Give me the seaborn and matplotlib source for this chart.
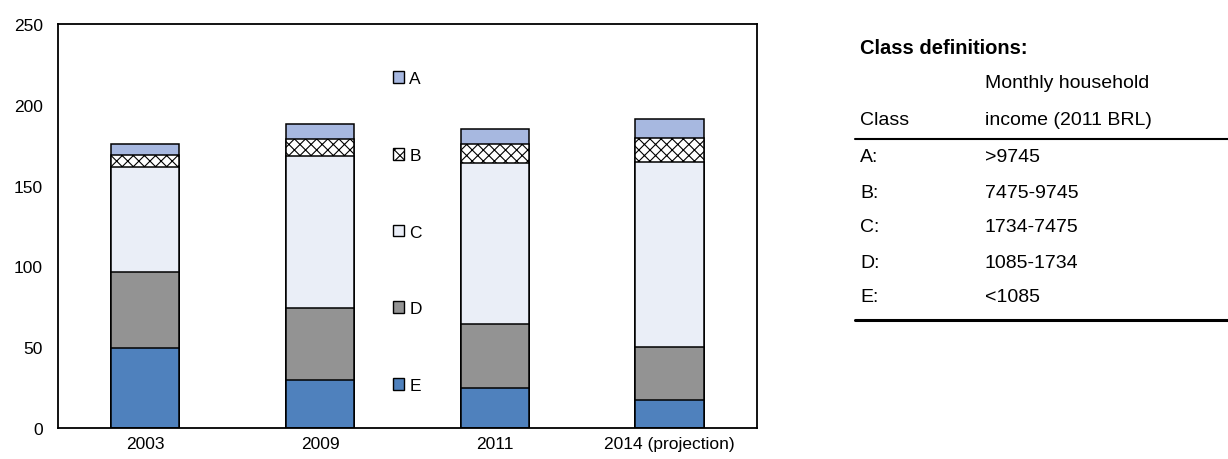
import numpy as np
import pandas as pd
import matplotlib
matplotlib.use("Agg")
import matplotlib.pyplot as plt
from matplotlib.patches import Patch
from matplotlib.lines import Line2D
import seaborn as sns

# values (stacked, bottom to top E, D, C, B, A)
years = ["2003", "2009", "2011", "2014 (projection)"]
class_e = [49.5, 30.0, 25.0, 17.5]
class_d = [47.0, 44.5, 39.5, 32.5]
class_c = [65.0, 93.5, 99.5, 114.5]
class_b = [7.5, 11.0, 11.5, 15.0]
class_a = [6.5, 9.0, 9.5, 12.0]

class_names = ["A", "B", "C", "D", "E"]
class_income = [">9745", "7475-9745", "1734-7475", "1085-1734", "<1085"]

colors = {"A": "#A7B8E0", "B": "#FFFFFF", "C": "#EAEEF7", "D": "#939393", "E": "#4F81BD"}

sns.set_style("white")
plt.rcParams["font.family"] = ["Liberation Sans", "DejaVu Sans"]
plt.rcParams["font.size"] = 12.5
plt.rcParams["text.color"] = "black"
plt.rcParams["xtick.color"] = "black"
plt.rcParams["ytick.color"] = "black"
plt.rcParams["hatch.linewidth"] = 0.8

df = pd.DataFrame({"year": years, "E": class_e, "D": class_d, "C": class_c,
                   "B": class_b, "A": class_a})
# cumulative tops, drawn from the tallest down so lower parts sit on top
order = ["E", "D", "C", "B", "A"]
cum = df[order].cumsum(axis=1)

fig = plt.figure(figsize=(12.28, 4.6), dpi=100)
ax = fig.add_axes([0.0472, 0.0674, 0.5692, 0.8783])

for cls in reversed(order):
    sns.barplot(x=df["year"], y=cum[cls], color=colors[cls], width=0.39,
                edgecolor="black", linewidth=1.1, saturation=1,
                hatch="xxx" if cls == "B" else None, ax=ax)

ax.set_ylim(0, 250)
ax.set_yticks(range(0, 251, 50))
ax.set_xlabel("")
ax.set_ylabel("")
for s in ax.spines.values():
    s.set_visible(True)
    s.set_linewidth(1.3)
    s.set_color("black")
ax.tick_params(axis="y", direction="in", length=6, width=1.1, labelsize=12.5, pad=11)
ax.tick_params(axis="x", length=0, labelsize=12.5, pad=6)

handles = [Patch(facecolor=colors[c], edgecolor="black", linewidth=1.0,
                 hatch="xxx" if c == "B" else None, label=c) for c in class_names]
ax.legend(handles=handles, loc="center", bbox_to_anchor=(0.5, 0.485), frameon=False,
          handlelength=0.65, handleheight=0.65, handletextpad=0.3, labelspacing=3.55,
          fontsize=12.5)

# class definition table on the right
def fx(px):
    return px / 1228

def fy(py):
    return 1 - py / 460

tsize = 14
fig.text(fx(860), fy(48), "Class definitions:", fontweight="bold", fontsize=14.5, va="center")
fig.text(fx(985), fy(84), "Monthly household", fontsize=tsize, va="center")
fig.text(fx(860), fy(121), "Class", fontsize=tsize, va="center")
fig.text(fx(985), fy(121), "income (2011 BRL)", fontsize=tsize, va="center")
fig.add_artist(Line2D([fx(855), 1.0], [fy(140), fy(140)], color="black", lw=1.5))
for i, (name, inc) in enumerate(zip(class_names, class_income)):
    y = 158 + i * 35
    fig.text(fx(860), fy(y), name + ":", fontsize=tsize, va="center")
    fig.text(fx(985), fy(y), inc, fontsize=tsize, va="center")
fig.add_artist(Line2D([fx(855), 1.0], [fy(321), fy(321)], color="black", lw=2.2))

fig.savefig("out.png", dpi=100)
